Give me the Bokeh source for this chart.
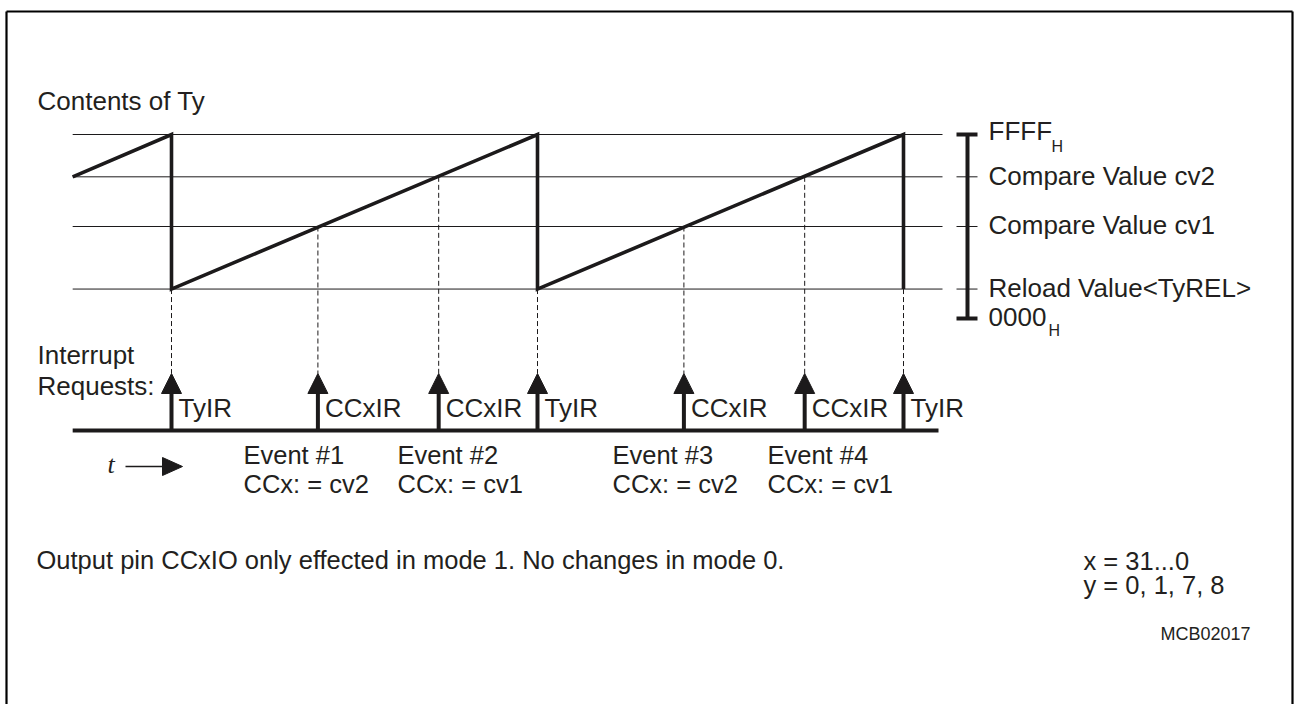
from bokeh.plotting import figure
from bokeh.models import Range1d
from bokeh.core.properties import value
from bokeh.embed import file_html
from bokeh.resources import INLINE

# ---------------- data ----------------
# counter levels, in % of the 0000H..FFFFH range
level_names = ["FFFF", "Compare Value cv2", "Compare Value cv1", "Reload Value<TyREL>", "0000"]
level_values = [100, 77, 50, 16, 0]

# sawtooth of the timer contents: time (in reload periods) and value
saw_t = [-0.27, 0.0, 0.0, 1.0, 1.0, 2.0, 2.0]
saw_v = [77, 100, 16, 100, 16, 100, 16]

# interrupt requests
irq_t = [0.0, 0.40, 0.73, 1.0, 1.40, 1.73, 2.0]
irq_v = [16, 50, 77, 16, 50, 77, 16]
irq_labels = ["TyIR", "CCxIR", "CCxIR", "TyIR", "CCxIR", "CCxIR", "TyIR"]

# events
event_names = ["Event #1", "Event #2", "Event #3", "Event #4"]
event_assign = ["CCx: = cv2", "CCx: = cv1", "CCx: = cv2", "CCx: = cv1"]

# ---------------- layout ----------------
W, H = 1296, 704
OX, OY = 0, 0
X0, SX = 171.0, 366.0     # page px of t=0, px per period
Y0, SY = 318.0, 1.84      # page px of value 0, px per %


def X(px):
    return (px - X0) / SX


def Y(py):
    return (Y0 - py) / SY


INK = "#1c1a1b"
TXT = "#231f20"
FONT = value("Liberation Sans")
FS = 26

p = figure(width=W, height=H, output_backend="svg", toolbar_location=None,
           x_range=Range1d(X(OX), X(OX + W)), y_range=Range1d(Y(OY + H), Y(OY)),
           x_axis_location=None, y_axis_location=None, min_border=0)
p.grid.visible = False
p.outline_line_color = None
p.background_fill_color = "white"
p.border_fill_color = "white"

# frame
p.segment(x0=[X(6), X(6), X(1292)], y0=[Y(11), Y(11), Y(11)],
          x1=[X(1292), X(6), X(1292)], y1=[Y(11), Y(OY + H), Y(OY + H)],
          line_color="black", line_width=2.2)

# level lines
n_lv = len(level_values)
p.segment(x0=[saw_t[0]] * 4, x1=[X(942)] * 4, y0=level_values[:4], y1=level_values[:4],
          line_color=INK, line_width=1)

# scale bracket on the right
p.segment(x0=[X(956)] * 3, x1=[X(977)] * 3, y0=level_values[1:4], y1=level_values[1:4],
          line_color=INK, line_width=1)
p.segment(x0=[X(956), X(956), X(967)], x1=[X(977), X(977), X(967)],
          y0=[level_values[0], level_values[-1], level_values[-1]],
          y1=[level_values[0], level_values[-1], level_values[0]],
          line_color=INK, line_width=4)

# sawtooth
p.line(saw_t, saw_v, line_color=INK, line_width=3.6, line_join="miter")

# dashed projections
tip, base, axis_y = 373, 393, 430
p.segment(x0=irq_t, x1=irq_t, y0=irq_v, y1=[Y(tip)] * len(irq_t),
          line_color=INK, line_width=1, line_dash="5 3")

# interrupt arrows
hw = 10 / SX
p.patches(xs=[[t - hw, t, t + hw] for t in irq_t],
          ys=[[Y(base), Y(tip), Y(base)] for _ in irq_t],
          fill_color=INK, line_color=INK, line_width=1)
p.segment(x0=irq_t, x1=irq_t, y0=[Y(base)] * len(irq_t), y1=[Y(axis_y)] * len(irq_t),
          line_color=INK, line_width=4)
# time axis
p.segment(x0=[saw_t[0]], x1=[X(938)], y0=[Y(axis_y)], y1=[Y(axis_y)],
          line_color=INK, line_width=4)

# t arrow
p.segment(x0=[X(125)], x1=[X(163)], y0=[Y(466)], y1=[Y(466)], line_color=INK, line_width=1.5)
p.patches(xs=[[X(162), X(182), X(162)]], ys=[[Y(457), Y(466), Y(475)]],
          fill_color=INK, line_color=INK, line_width=1)
p.text(x=[X(107)], y=[Y(474 - 0.4 * 26)], text=["t"], text_font=value("Liberation Serif"),
       text_font_style="italic", text_font_size="26px", text_color=TXT,
       text_baseline="alphabetic", text_align="left")


def label(xs, base_px, texts, size=FS):
    # base_px: wanted baseline in page px (corrected for the renderer's baseline offset)
    ys = [Y(b - 0.4 * size) for b in base_px]
    p.text(x=xs, y=ys, text=texts, text_font=FONT, text_font_size=f"{size}px",
           text_color=TXT, text_baseline="alphabetic", text_align="left")


# titles
label([X(37)], [111], ["Contents of Ty"])
label([X(37), X(37)], [365, 396], ["Interrupt", "Requests:"])

# level labels on the right
lv_base_px = [141, 186, 235, 298, 327]
label([X(988)] * n_lv, lv_base_px, level_names)
label([X(1051), X(1048)], [152, 336], ["H", "H"], size=16)

# irq labels
label([t + 7 / SX for t in irq_t], [418] * len(irq_t), irq_labels)

# event labels
ev_px = [243, 397, 612, 767]
label([X(e) for e in ev_px], [465] * 4, event_names, size=25.5)
label([X(e) for e in ev_px], [494] * 4, event_assign, size=25.5)

# footnotes
label([X(36)], [570], ["Output pin CCxIO only effected in mode 1. No changes in mode 0."], size=25.5)
label([X(1083), X(1083)], [571, 595], ["x = 31...0", "y = 0, 1, 7, 8"], size=25.5)
label([X(1160)], [641], ["MCB02017"], size=18)

open("out.html", "w").write(file_html(p, INLINE))
